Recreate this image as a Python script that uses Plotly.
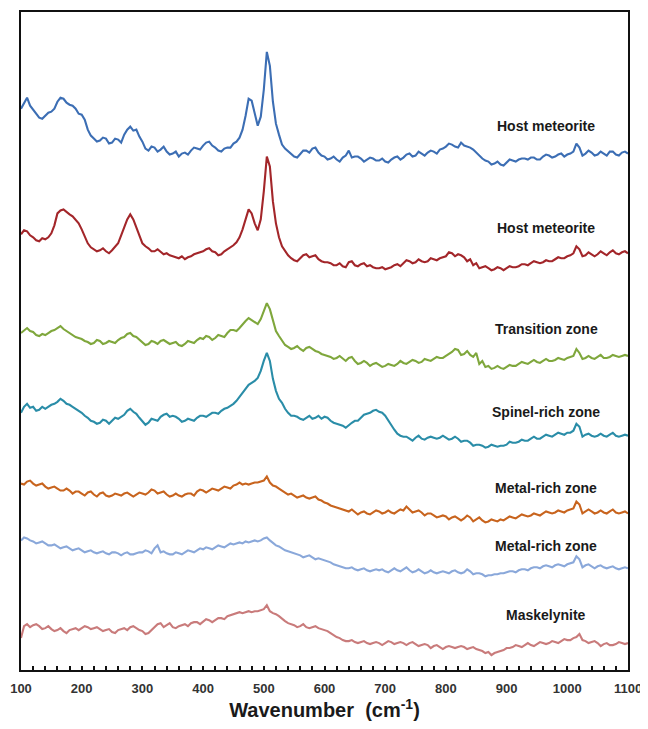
import plotly.graph_objects as go

# Raman shift grid (cm-1) for the main readings
WAVENUMBER = [
    100, 110, 120, 130, 140, 150, 160, 170, 180, 190,
    200, 210, 220, 230, 240, 250, 260, 270, 280, 290,
    300, 310, 320, 330, 340, 350, 360, 370, 380, 390,
    400, 410, 420, 430, 440, 450, 455, 460, 465, 470,
    475, 480, 485, 490, 495, 500, 505, 510, 515, 520,
    525, 530, 535, 540, 550, 560, 570, 580, 590, 600,
    610, 620, 630, 640, 650, 660, 670, 680, 690, 700,
    710, 720, 730, 740, 750, 760, 770, 780, 790, 800,
    810, 820, 830, 840, 850, 860, 870, 880, 890, 900,
    910, 920, 930, 940, 950, 960, 970, 980, 990, 1000,
    1010, 1020, 1030, 1040, 1050, 1060, 1070, 1080, 1090, 1100,
]

# in-between readings (noise wiggles of the spectra)
WAVENUMBER_MID = [
    105, 115, 125, 135, 145, 155, 165, 175, 185, 195,
    205, 215, 225, 235, 245, 255, 265, 275, 285, 295,
    305, 315, 325, 335, 345, 355, 365, 375, 385, 395,
    405, 415, 425, 435, 445, 545, 555, 565, 575, 585,
    595, 605, 615, 625, 635, 645, 655, 665, 675, 685,
    695, 705, 715, 725, 735, 745, 755, 765, 775, 785,
    795, 805, 815, 825, 835, 845, 855, 865, 875, 885,
    895, 905, 915, 925, 935, 945, 955, 965, 975, 985,
    995, 1005, 1015, 1025, 1035, 1045, 1055, 1065, 1075, 1085, 1095,
]

HOST_METEORITE_A = [
    63, 74, 62, 54, 56, 60, 70, 73, 67, 63,
    57, 42, 33, 31, 33, 29, 32, 37, 45, 42,
    30, 21, 24, 22, 20, 18, 15, 19, 21, 23,
    26, 30, 24, 20, 24, 28, 30, 34, 42, 56,
    73, 71, 57, 46, 55, 82, 120, 106, 70, 48,
    37, 27, 23, 20, 15, 18, 21, 23, 19, 15,
    13, 12, 14, 21, 15, 13, 12, 13, 11, 10,
    12, 15, 14, 18, 16, 18, 19, 20, 22, 25,
    27, 24, 26, 24, 19, 13, 10, 8, 7, 9,
    11, 12, 13, 14, 12, 15, 16, 15, 18, 17,
    20, 24, 18, 19, 17, 18, 20, 17, 19, 18,
]
HOST_METEORITE_A_MID = [
    69, 66, 57, 53, 59, 63, 74, 69, 66, 58,
    52, 36, 30, 34, 28, 33, 29, 42, 41, 35,
    23, 25, 20, 25, 17, 20, 18, 17, 24, 22,
    29, 26, 21, 23, 24, 17, 14, 21, 19, 24,
    16, 12, 15, 10, 16, 14, 15, 10, 14, 11,
    13, 9, 14, 12, 17, 15, 20, 16, 21, 18,
    23, 28, 25, 29, 25, 22, 15, 11, 7, 10,
    6, 12, 10, 13, 12, 14, 12, 17, 14, 17,
    15, 18, 28, 16, 21, 16, 20, 16, 20, 16, 20,
]

HOST_METEORITE_B = [
    37, 40, 34, 30, 32, 38, 58, 62, 57, 52,
    42, 28, 22, 21, 20, 21, 28, 45, 57, 44,
    28, 23, 20, 19, 18, 15, 13, 12, 15, 18,
    20, 23, 19, 17, 22, 26, 29, 34, 42, 52,
    62, 58, 48, 41, 52, 80, 115, 105, 70, 48,
    34, 25, 20, 16, 11, 13, 17, 15, 12, 9,
    8, 6, 5, 9, 6, 7, 5, 4, 3, 2,
    4, 7, 8, 10, 9, 10, 10, 12, 13, 15,
    18, 17, 14, 12, 8, 4, 3, 2, 3, 3,
    4, 5, 7, 8, 9, 9, 10, 12, 13, 15,
    18, 22, 16, 17, 17, 18, 19, 18, 19, 18,
]
HOST_METEORITE_B_MID = [
    41, 36, 31, 33, 34, 46, 61, 59, 55, 48,
    35, 24, 20, 23, 18, 24, 36, 52, 52, 36,
    25, 20, 22, 17, 16, 14, 15, 14, 17, 19,
    22, 20, 16, 20, 24, 13, 10, 16, 14, 16,
    10, 9, 6, 8, 4, 10, 5, 8, 6, 3,
    4, 3, 6, 5, 11, 8, 12, 9, 13, 11,
    14, 19, 15, 16, 10, 6, 3, 5, 1, 4,
    1, 5, 4, 7, 6, 10, 8, 11, 10, 14,
    13, 16, 25, 15, 19, 15, 20, 16, 21, 17, 20,
]

TRANSITION_ZONE = [
    38, 43, 39, 35, 36, 40, 43, 42, 38, 34,
    32, 29, 28, 30, 28, 29, 31, 34, 38, 34,
    29, 27, 29, 30, 29, 28, 26, 27, 29, 31,
    32, 34, 33, 35, 38, 41, 40, 43, 47, 50,
    53, 51, 49, 47, 52, 60, 68, 62, 50, 40,
    35, 30, 26, 24, 23, 22, 23, 22, 19, 16,
    14, 13, 12, 13, 10, 8, 8, 7, 6, 5,
    6, 7, 8, 9, 10, 9, 11, 12, 13, 15,
    19, 21, 17, 16, 18, 10, 5, 3, 3, 4,
    5, 7, 8, 9, 9, 10, 10, 11, 12, 13,
    15, 18, 13, 13, 14, 13, 14, 15, 15, 15,
]
TRANSITION_ZONE_MID = [
    41, 40, 36, 37, 38, 41, 45, 40, 36, 33,
    30, 27, 31, 27, 30, 28, 33, 37, 35, 31,
    26, 30, 27, 31, 27, 29, 25, 30, 28, 33,
    35, 31, 36, 34, 41, 22, 25, 20, 24, 20,
    17, 15, 12, 15, 10, 14, 7, 10, 5, 8,
    4, 7, 5, 10, 7, 11, 8, 12, 10, 14,
    13, 17, 22, 16, 20, 14, 7, 4, 2, 5,
    2, 6, 5, 9, 7, 11, 8, 12, 10, 13,
    11, 14, 22, 12, 15, 12, 16, 13, 16, 14, 16,
]

SPINEL_RICH_ZONE = [
    38, 47, 44, 41, 42, 46, 49, 50, 46, 42,
    38, 33, 29, 28, 30, 30, 32, 36, 42, 37,
    30, 28, 31, 34, 37, 35, 32, 30, 31, 33,
    35, 36, 38, 40, 43, 47, 50, 54, 58, 62,
    66, 68, 70, 73, 80, 90, 98, 90, 72, 60,
    52, 48, 42, 38, 35, 32, 33, 32, 35, 34,
    30, 27, 25, 26, 30, 33, 37, 40, 39, 35,
    25, 17, 14, 12, 13, 12, 13, 13, 13, 13,
    12, 12, 10, 8, 6, 5, 4, 5, 5, 6,
    8, 9, 10, 12, 12, 14, 15, 16, 17, 18,
    20, 24, 16, 15, 15, 15, 16, 15, 15, 15,
]
SPINEL_RICH_ZONE_MID = [
    44, 43, 40, 44, 44, 47, 52, 47, 44, 40,
    35, 30, 27, 31, 27, 33, 34, 40, 39, 33,
    26, 32, 30, 36, 34, 34, 29, 32, 30, 35,
    34, 38, 37, 42, 45, 35, 34, 31, 35, 33,
    32, 33, 28, 26, 23, 28, 30, 36, 38, 41,
    38, 30, 21, 15, 14, 10, 15, 11, 14, 12,
    15, 11, 14, 9, 10, 5, 6, 3, 6, 4,
    5, 9, 8, 11, 10, 14, 12, 16, 14, 18,
    16, 18, 27, 14, 17, 14, 17, 14, 18, 14, 16,
]

METAL_RICH_ZONE_A = [
    47, 49, 47, 46, 44, 43, 42, 40, 40, 39,
    37, 38, 36, 37, 35, 35, 36, 37, 36, 36,
    37, 38, 40, 38, 36, 35, 35, 36, 37, 39,
    40, 40, 41, 42, 43, 45, 46, 48, 46, 47,
    46, 47, 48, 48, 49, 50, 54, 48, 45, 44,
    42, 40, 38, 36, 35, 34, 33, 33, 31, 28,
    25, 23, 21, 19, 18, 18, 17, 18, 19, 18,
    18, 19, 20, 21, 19, 18, 17, 15, 14, 14,
    13, 12, 12, 13, 11, 10, 9, 10, 11, 12,
    13, 14, 15, 15, 16, 17, 18, 18, 19, 20,
    22, 26, 19, 19, 18, 18, 19, 18, 18, 17,
]
METAL_RICH_ZONE_A_MID = [
    46, 50, 45, 47, 42, 44, 40, 42, 37, 39,
    35, 39, 34, 38, 34, 37, 35, 38, 34, 38,
    36, 41, 37, 39, 34, 37, 34, 37, 35, 41,
    38, 42, 40, 44, 42, 37, 33, 35, 32, 34,
    30, 27, 24, 22, 20, 21, 16, 19, 16, 20,
    17, 20, 17, 21, 24, 18, 20, 15, 17, 13,
    15, 11, 14, 10, 15, 9, 13, 8, 11, 9,
    10, 14, 12, 16, 14, 17, 15, 19, 17, 20,
    18, 21, 29, 17, 21, 17, 20, 17, 21, 17, 19,
]

METAL_RICH_ZONE_B = [
    40, 42, 39, 38, 37, 35, 34, 33, 32, 31,
    30, 29, 28, 28, 27, 28, 27, 27, 26, 27,
    28, 29, 32, 28, 27, 26, 27, 28, 29, 30,
    31, 32, 33, 34, 35, 36, 37, 38, 37, 39,
    38, 39, 40, 39, 40, 42, 43, 40, 37, 35,
    34, 32, 30, 29, 27, 25, 24, 23, 22, 20,
    18, 15, 13, 12, 11, 11, 10, 10, 10, 9,
    10, 10, 11, 10, 9, 9, 8, 8, 8, 8,
    9, 8, 8, 9, 7, 6, 5, 6, 7, 8,
    9, 10, 11, 12, 13, 14, 14, 15, 15, 16,
    18, 21, 15, 14, 14, 13, 13, 12, 12, 12,
]
METAL_RICH_ZONE_B_MID = [
    43, 40, 37, 39, 35, 36, 32, 34, 30, 32,
    28, 30, 27, 29, 26, 28, 25, 28, 26, 28,
    30, 27, 35, 29, 26, 28, 26, 30, 28, 32,
    33, 31, 35, 33, 37, 28, 26, 23, 25, 21,
    21, 19, 16, 14, 12, 13, 10, 12, 9, 11,
    11, 8, 12, 9, 13, 8, 11, 7, 10, 7,
    9, 7, 10, 7, 11, 6, 7, 4, 5, 6,
    7, 9, 8, 11, 10, 13, 12, 15, 13, 16,
    14, 17, 24, 13, 16, 12, 15, 12, 14, 11, 13,
]

MASKELYNITE = [
    32, 46, 45, 44, 42, 41, 40, 39, 40, 42,
    42, 43, 42, 41, 40, 38, 40, 42, 43, 42,
    39, 37, 42, 47, 45, 43, 44, 46, 47, 48,
    49, 50, 50, 52, 54, 56, 57, 58, 57, 58,
    59, 58, 59, 59, 60, 61, 65, 59, 57, 56,
    54, 51, 49, 47, 45, 44, 43, 43, 42, 40,
    37, 33, 30, 29, 28, 28, 27, 27, 27, 27,
    28, 27, 27, 27, 26, 25, 25, 24, 23, 23,
    23, 23, 23, 22, 21, 19, 18, 17, 19, 22,
    23, 24, 25, 25, 26, 27, 27, 28, 29, 30,
    32, 36, 29, 28, 27, 26, 25, 26, 27, 27,
]
MASKELYNITE_MID = [
    44, 43, 46, 41, 44, 39, 42, 37, 41, 40,
    44, 41, 43, 39, 41, 37, 41, 40, 44, 40,
    36, 40, 46, 43, 47, 42, 45, 44, 48, 46,
    51, 48, 52, 51, 55, 46, 43, 46, 42, 44,
    41, 39, 35, 32, 29, 30, 27, 29, 26, 28,
    25, 29, 26, 28, 25, 28, 24, 26, 22, 25,
    21, 24, 22, 24, 21, 23, 20, 17, 15, 18,
    20, 22, 25, 23, 27, 24, 28, 26, 29, 27,
    31, 30, 33, 30, 27, 29, 24, 27, 25, 28, 26,
]

LABELS = ["Host meteorite", "Host meteorite", "Transition zone", "Spinel-rich zone",
          "Metal-rich zone", "Metal-rich zone", "Maskelynite"]
SERIES = [HOST_METEORITE_A, HOST_METEORITE_B, TRANSITION_ZONE, SPINEL_RICH_ZONE,
          METAL_RICH_ZONE_A, METAL_RICH_ZONE_B, MASKELYNITE]
SERIES_MID = [HOST_METEORITE_A_MID, HOST_METEORITE_B_MID, TRANSITION_ZONE_MID,
              SPINEL_RICH_ZONE_MID, METAL_RICH_ZONE_A_MID, METAL_RICH_ZONE_B_MID,
              MASKELYNITE_MID]
OFFSETS = [500, 400, 300, 220, 140, 90, 0]
COLORS = ["#3C6EB4", "#A3262A", "#7FA73C", "#2A8DA8", "#C8641E", "#8AA8DA", "#C97B7B"]
LABEL_Y = [0.827, 0.671, 0.518, 0.392, 0.276, 0.188, 0.083]
X_TICKS = [100, 200, 300, 400, 500, 600, 700, 800, 900, 1000, 1100]

for s, m in zip(SERIES, SERIES_MID):
    assert len(s) == len(WAVENUMBER)
    assert len(m) == len(WAVENUMBER_MID)

FONT = "Liberation Sans, Arial, sans-serif"

fig = go.Figure()
for name, vals, mids, off, col in zip(LABELS, SERIES, SERIES_MID, OFFSETS, COLORS):
    pts = sorted(list(zip(WAVENUMBER, vals)) + list(zip(WAVENUMBER_MID, mids)))
    fig.add_trace(go.Scatter(
        x=[p[0] for p in pts], y=[p[1] + off for p in pts], mode="lines", name=name,
        line=dict(color=col, width=2.1), showlegend=False, hoverinfo="skip"))

for lab, ly in zip(LABELS, LABEL_Y):
    fig.add_annotation(text="<b>%s</b>" % lab, xref="paper", yref="paper",
                       x=0.865, y=ly, xanchor="center", yanchor="middle",
                       showarrow=False,
                       font=dict(family=FONT, size=14, color="#1a1a1a"))

# page body has an 8px margin: figure size / margins compensate for it
fig.update_layout(
    width=640, height=713,
    margin=dict(l=11, r=20, t=2, b=51),
    paper_bgcolor="white", plot_bgcolor="white",
    xaxis=dict(range=[100, 1100], tickvals=X_TICKS, ticktext=[str(t) for t in X_TICKS],
               showline=True, linecolor="#111", linewidth=2, mirror=True,
               ticks="inside", ticklen=4, tickwidth=1.5, tickcolor="#111",
               ticklabelstandoff=5, ticklabeloverflow="allow",
               minor=dict(ticks="inside", dtick=20, tick0=100, ticklen=4, tickwidth=1.5,
                          tickcolor="#111", showgrid=False),
               showgrid=False, zeroline=False,
               tickfont=dict(family=FONT, size=13, color="#333", weight="bold"),
               title=dict(text="<b>Wavenumber&nbsp;&nbsp;(cm<sup>-1</sup>)</b>",
                          font=dict(family=FONT, size=20, color="#1a1a1a"),
                          standoff=4)),
    yaxis=dict(range=[0, 660], showline=True, linecolor="#111", linewidth=2, mirror=True,
               showticklabels=False, ticks="", showgrid=False, zeroline=False),
)

fig.write_html("out.html")
